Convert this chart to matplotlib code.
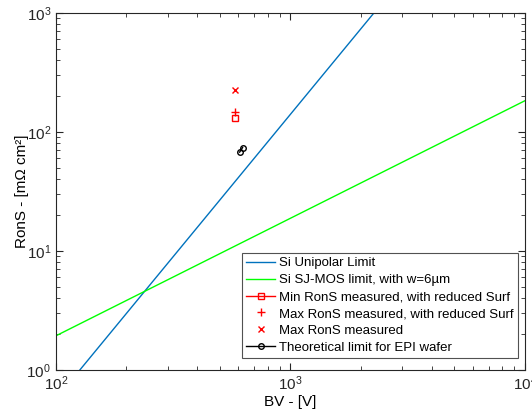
import matplotlib.pyplot as plt

plt.rcParams['font.family'] = ['Liberation Sans', 'DejaVu Sans']

# values (BV in V, RonS in mOhm cm2)
bv_unipolar = [126.7, 2269]
ron_unipolar = [1.0, 1000.0]

bv_sj = [100, 10000]
ron_sj = [1.93, 183]

bv_min_surf = [578]
ron_min_surf = [130]

bv_max_surf = [578]
ron_max_surf = [146]

bv_max = [578]
ron_max = [225]

bv_epi = [607, 625]
ron_epi = [67.5, 73.8]

fig = plt.figure(figsize=(5.32, 4.16), dpi=100)
ax = fig.add_axes([0.105, 0.111, 0.882, 0.858])

ax.plot(bv_unipolar, ron_unipolar, color='#0072BD', lw=1, label='Si Unipolar Limit')
ax.plot(bv_sj, ron_sj, color='#00FF00', lw=1, label='Si SJ-MOS limit, with w=6µm')
ax.plot(bv_min_surf, ron_min_surf, color='red', marker='s', ms=4, mfc='none',
        lw=1, label='Min RonS measured, with reduced Surf')
ax.plot(bv_max_surf, ron_max_surf, color='red', marker='+', ms=6, ls='none',
        label='Max RonS measured, with reduced Surf')
ax.plot(bv_max, ron_max, color='red', marker='x', ms=5, ls='none',
        label='Max RonS measured')
ax.plot(bv_epi, ron_epi, color='black', marker='o', ms=4, mfc='none', lw=1,
        label='Theoretical limit for EPI wafer')

ax.set_xscale('log')
ax.set_yscale('log')
ax.set_xlim(100, 10000)
ax.set_ylim(1, 1000)

ax.set_xlabel('BV - [V]', fontsize=11, labelpad=1)
ax.set_ylabel('RonS - [mΩ cm²]', fontsize=11, labelpad=-2)

for s in ax.spines.values():
    s.set_color('#262626')
    s.set_linewidth(0.8)
ax.tick_params(which='both', direction='in', top=True, right=True,
               colors='#262626', labelsize=11)
ax.tick_params(which='major', length=5)
ax.tick_params(which='minor', length=3)

leg = ax.legend(loc='lower right', bbox_to_anchor=(0.984, 0.034), fontsize=9.5,
                frameon=True, fancybox=False, edgecolor='#262626',
                handlelength=2.2, borderpad=0.3, labelspacing=0.35,
                handletextpad=0.3, borderaxespad=0)
leg.get_frame().set_linewidth(0.8)

plt.savefig('out.png')
